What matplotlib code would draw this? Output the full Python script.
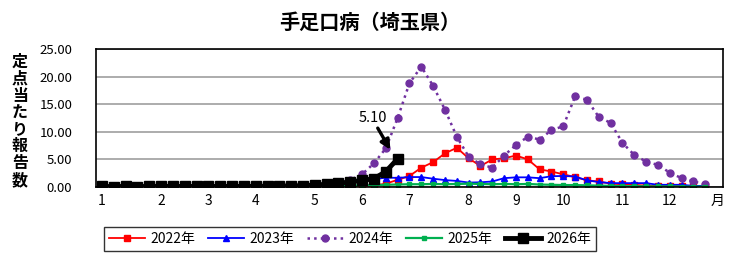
import matplotlib
matplotlib.use('Agg')
import matplotlib.pyplot as plt

plt.rcParams['font.family'] = ['Noto Sans CJK JP', 'DejaVu Sans']

# weekly values (per sentinel), week 1..52
weeks = list(range(1, 53))
y2022 = [0.03, 0.02, 0.03, 0.02, 0.02, 0.03, 0.02, 0.02, 0.03, 0.03,
         0.02, 0.03, 0.02, 0.03, 0.03, 0.05, 0.04, 0.05, 0.06, 0.07,
         0.08, 0.10, 0.15, 0.25, 0.60, 1.30, 2.00, 3.50, 4.50, 6.10,
         7.10, 5.20, 3.80, 5.00, 5.20, 5.70, 5.00, 3.20, 2.80, 2.30,
         1.80, 1.20, 1.00, 0.60, 0.50, 0.40, 0.25, 0.20, 0.20, 0.20, 0.10, 0.10]
y2023 = [0.10, 0.08, 0.08, 0.07, 0.08, 0.07, 0.08, 0.10, 0.10, 0.12,
         0.12, 0.13, 0.15, 0.15, 0.18, 0.20, 0.22, 0.25, 0.30, 0.40,
         0.55, 0.80, 1.10, 1.40, 1.70, 1.65, 1.80, 1.80, 1.50, 1.25,
         1.10, 0.80, 0.85, 1.00, 1.60, 1.75, 1.75, 1.60, 1.95, 2.00,
         1.90, 1.20, 0.90, 0.70, 0.70, 0.70, 0.70, 0.40, 0.40, 0.40, 0.20, 0.20]
y2024 = [0.15, 0.12, 0.10, 0.10, 0.08, 0.08, 0.10, 0.10, 0.10, 0.12,
         0.12, 0.12, 0.15, 0.15, 0.18, 0.20, 0.20, 0.25, 0.30, 0.50,
         0.80, 1.30, 2.30, 4.30, 7.00, 12.50, 18.80, 21.80, 18.30, 14.00,
         9.10, 5.50, 4.10, 3.50, 5.70, 7.60, 9.10, 8.60, 10.30, 11.00,
         16.40, 15.80, 12.70, 11.60, 8.00, 5.80, 4.60, 4.00, 2.60, 1.60, 1.00, 0.50]
y2025 = [0.05, 0.05, 0.04, 0.04, 0.04, 0.05, 0.05, 0.05, 0.06, 0.06,
         0.06, 0.07, 0.07, 0.08, 0.08, 0.10, 0.10, 0.12, 0.15, 0.18,
         0.20, 0.25, 0.30, 0.35, 0.40, 0.45, 0.50, 0.50, 0.55, 0.50,
         0.55, 0.60, 0.55, 0.50, 0.55, 0.50, 0.55, 0.45, 0.40, 0.35,
         0.35, 0.30, 0.25, 0.20, 0.15, 0.15, 0.10, 0.10, 0.10, 0.08, 0.08, 0.05]
y2026 = [0.10, 0.08, 0.10, 0.08, 0.10, 0.15, 0.10, 0.10, 0.10, 0.10,
         0.10, 0.12, 0.12, 0.12, 0.15, 0.18, 0.20, 0.25, 0.35, 0.50,
         0.70, 0.90, 1.20, 1.50, 2.80, 5.10]

month_pos = [1, 6, 10, 14, 19, 23, 27, 32, 36, 40, 45, 49, 53]
month_labels = ['1', '2', '3', '4', '5', '6', '7', '8', '9', '10', '11', '12', '月']

fig = plt.figure(figsize=(7.4, 2.66), dpi=100)
ax = fig.add_axes([0.1297, 0.297, 0.8473, 0.519])

ax.plot(weeks, y2022, color='#FF0000', lw=1.3, marker='s', ms=4, label='2022年')
ax.plot(weeks, y2023, color='#0000FF', lw=1.3, marker='^', ms=4.5, label='2023年')
ax.plot(weeks, y2024, color='#7030A0', lw=1.8, ls=':', marker='o', ms=5, label='2024年')
ax.plot(weeks, y2025, color='#00B050', lw=1.6, marker='s', ms=2.8, label='2025年')
ax.plot(weeks[:len(y2026)], y2026, color='black', lw=3.5, marker='s', ms=7, label='2026年')

# label for latest value
ax.text(23.9, 12.5, f'{y2026[-1]:.2f}', ha='center', va='center', fontsize=10.5)
ax.annotate('', xy=(25.5, 6.3), xytext=(24.2, 11.1),
            arrowprops=dict(arrowstyle='-|>', color='black', lw=2.4, mutation_scale=14))

ax.set_xlim(0.5, 53.5)
ax.set_ylim(0, 25)
ax.set_yticks([0, 5, 10, 15, 20, 25])
ax.set_yticklabels(['0.00', '5.00', '10.00', '15.00', '20.00', '25.00'], fontsize=9.5)
ax.set_xticks(month_pos)
ax.set_xticklabels(month_labels, fontsize=10)
ax.tick_params(length=0, pad=5)
ax.tick_params(axis='y', pad=17)
ax.yaxis.grid(True, color='#a6a6a6', lw=1.3)
ax.set_axisbelow(True)
for s in ax.spines.values():
    s.set_color('black')
    s.set_linewidth(1.2)

fig.text(0.5, 0.915, '手足口病（埼玉県）', ha='center', va='center', fontsize=14.5, fontweight='bold')
fig.text(0.027, 0.545, '\n'.join('定点当たり報告数'), ha='center', va='center',
         fontsize=11.5, fontweight='bold', linespacing=1.07)

leg = fig.legend(loc='center', bbox_to_anchor=(350 / 740, 1 - 239 / 266), ncol=5,
                 fontsize=10, frameon=True, fancybox=False, edgecolor='black',
                 handlelength=2.6, handletextpad=0.4, columnspacing=0.9, borderpad=0.35)
leg.get_frame().set_linewidth(1.0)

plt.savefig('out.png', dpi=100)
